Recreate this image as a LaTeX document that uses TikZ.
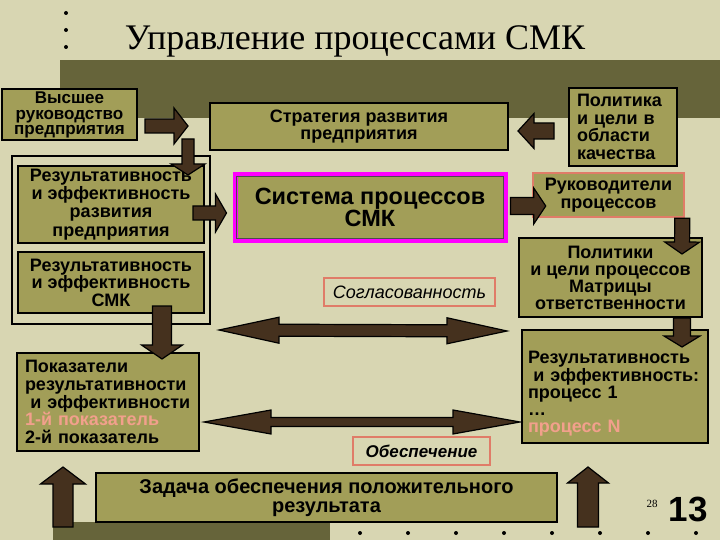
\documentclass[tikz,border=0pt]{standalone}
\usepackage{fontspec}
\setmainfont{Liberation Sans}
\newfontfamily\titlefont{Liberation Serif}
\usetikzlibrary{calc}
\definecolor{bg}{HTML}{D8D6B2}
\definecolor{band}{HTML}{66643A}
\definecolor{olive}{HTML}{A29E58}
\definecolor{arr}{HTML}{45311E}
\definecolor{salmontext}{HTML}{F2A08C}
\definecolor{salmonline}{HTML}{E07C68}
\definecolor{mag}{HTML}{FF00FF}
\tikzset{
  box/.style={draw=black, line width=2pt, fill=olive, inner sep=0pt, align=center,
    font=\bfseries\fontsize{18}{17.6}\selectfont},
  arrowshape/.style={draw=black, line width=1.2pt, fill=arr, line join=miter},
  dot/.style={circle, fill=black, inner sep=0pt, minimum size=4pt},
  tagbox/.style={draw=salmonline, line width=1.6pt, fill=bg, inner sep=0pt},
}
\newcommand\blockarrow[5]{% start, tip, shaft half width, head half width, head length
  \coordinate (baS) at (#1);
  \coordinate (baT) at (#2);
  \coordinate (baH) at ($(baT)!#5pt!(baS)$);
  \draw[arrowshape] ($(baS)!#3pt!90:(baT)$) -- ($(baH)!#3pt!-90:(baS)$)
    -- ($(baH)!#4pt!-90:(baS)$) -- (baT) -- ($(baH)!#4pt!90:(baS)$)
    -- ($(baH)!#3pt!90:(baS)$) -- ($(baS)!#3pt!-90:(baT)$) -- cycle;
}
\newcommand\dblarrow[5]{% tip A, tip B, shaft half width, head half width, head length
  \coordinate (daA) at (#1);
  \coordinate (daB) at (#2);
  \coordinate (daHA) at ($(daA)!#5pt!(daB)$);
  \coordinate (daHB) at ($(daB)!#5pt!(daA)$);
  \draw[arrowshape] (daA) -- ($(daHA)!#4pt!90:(daB)$) -- ($(daHA)!#3pt!90:(daB)$)
    -- ($(daHB)!#3pt!-90:(daA)$) -- ($(daHB)!#4pt!-90:(daA)$) -- (daB)
    -- ($(daHB)!#4pt!90:(daA)$) -- ($(daHB)!#3pt!90:(daA)$)
    -- ($(daHA)!#3pt!-90:(daB)$) -- ($(daHA)!#4pt!-90:(daB)$) -- cycle;
}
\begin{document}
\begin{tikzpicture}[x=1pt,y=-1pt]
\useasboundingbox (0,0) rectangle (720,540);
\fill[bg] (0,0) rectangle (720,540);
% bands
\fill[band] (60,60) rectangle (720,118);
\fill[band] (53,522) rectangle (330,540);
% dots
\foreach \yy [count=\i] in {13,30,47} \node[dot] (td\i) at (66,\yy) {};
\foreach \xx [count=\i] in {360,408,456,504,552,600,648,696} \node[dot] (bd\i) at (\xx,533) {};
% title
\node[font=\titlefont\fontsize{36}{36}\selectfont, anchor=base, inner sep=0pt] (title) at (355,50) {Управление процессами СМК};

% left column
\node[box, minimum width=135pt, minimum height=51pt, font=\bfseries\fontsize{17}{15.8}\selectfont] (vys) at (69.5,115)
  {Высшее\\руководство\\предприятия};
\node[draw=black, line width=2pt, fill=bg, minimum width=198pt, minimum height=168pt] (frame) at (111,240) {};
\node[box, minimum width=186pt, minimum height=77pt, font=\bfseries\fontsize{18}{18.3}\selectfont] (resrazv) at (111,204.5)
  {Результативность\\и эффективность\\развития\\предприятия};
\node[box, minimum width=186pt, minimum height=61pt] (ressmk) at (111,282.5)
  {Результативность\\и эффективность\\СМК};
\node[box, minimum width=182pt, minimum height=98pt, text width=166pt, align=left] (pokaz) at (108,402)
  {Показатели\\результативности\\\hspace*{0.3em}и эффективности\\{\color{salmontext}1-й показатель}\\2-й показатель};

% centre
\node[box, minimum width=298pt, minimum height=47pt] (strat) at (359,126.5)
  {Стратегия развития\\предприятия};
\node[box, draw=mag, line width=5pt, minimum width=270pt, minimum height=65pt,
  font=\bfseries\fontsize{23.5}{22.5}\selectfont] (sist) at (370,207.5)
  {Система процессов\\СМК};
\draw[line width=0.7pt, draw=black!70] ($(sist.north west)+(4,4)$) rectangle ($(sist.south east)+(-4,-4)$);
\node[tagbox, minimum width=171pt, minimum height=28pt, font=\itshape\fontsize{18}{18}\selectfont] (sogl) at (409.5,292) {Согласованность};
\node[tagbox, minimum width=137pt, minimum height=28pt, font=\bfseries\itshape\fontsize{17}{17}\selectfont] (obesp) at (421.5,451) {Обеспечение};
\node[box, minimum width=461pt, minimum height=49pt, font=\bfseries\fontsize{20}{19}\selectfont] (zad) at (326.5,497.5)
  {Задача обеспечения положительного\\результата};

% right column
\node[box, minimum width=108pt, minimum height=78pt, text width=92pt, align=left] (polit) at (623,127)
  {Политика\\и цели в\\области\\качества};
\node[box, draw=salmonline, line width=2.5pt, minimum width=151pt, minimum height=44pt] (rukov) at (608.5,195)
  {Руководители\\процессов};
\node[box, minimum width=183pt, minimum height=79pt, font=\bfseries\fontsize{18}{17}\selectfont] (politp) at (610.5,277.5)
  {Политики\\и цели процессов\\Матрицы\\ответственности};
\node[box, minimum width=186pt, minimum height=113pt] (resproc) at (615,386.5) {};
\node[inner sep=0pt, text width=174pt, align=left, font=\bfseries\fontsize{18}{17.2}\selectfont] (resprocT) at (615,394)
  {Результативность\\\hspace*{0.3em}и эффективность:\\процесс 1\\\dots\\{\color{salmontext}процесс N}};

% page numbers
\node[font=\titlefont\fontsize{11}{11}\selectfont, inner sep=0pt] (n28) at (652,504) {28};
\node[font=\bfseries\fontsize{35}{35}\selectfont, inner sep=0pt, anchor=base] (n13) at (688,521) {13};

% block arrows
\coordinate (a1s) at (145,126);
\coordinate (a1t) at ($(strat.west)+(-21,-0.5)$);
\blockarrow{a1s}{a1t}{7}{18}{14}
\coordinate (a2s) at (188,139);
\coordinate (a2t) at ($(resrazv.north)+(77,10)$);
\blockarrow{a2s}{a2t}{6}{17}{11}
\coordinate (a3s) at ($(resrazv.east)+(-12,8.5)$);
\coordinate (a3t) at ($(sist.west)+(-6,5.5)$);
\blockarrow{a3s}{a3t}{7}{19}{11}
\coordinate (a4s) at ($(polit.west)+(-14,4)$);
\coordinate (a4t) at ($(strat.east)+(9,4.5)$);
\blockarrow{a4s}{a4t}{8}{17.5}{16}
\coordinate (a5s) at ($(sist.east)+(3,-1.5)$);
\coordinate (a5t) at ($(rukov.west)+(14,11)$);
\blockarrow{a5s}{a5t}{8.5}{18}{12}
\coordinate (a6s) at ($(rukov.south east)+(-3,0)$);
\coordinate (a6t) at ($(politp.north east)+(-21,17)$);
\blockarrow{a6s}{a6t}{7.5}{17.5}{12}
\coordinate (a7s) at ($(politp.south east)+(-21,0)$);
\coordinate (a7t) at ($(resproc.north east)+(-27,18)$);
\blockarrow{a7s}{a7t}{8.5}{18}{11}
\coordinate (a8s) at ($(ressmk.south)+(51,-8)$);
\coordinate (a8t) at ($(pokaz.north)+(54,7)$);
\blockarrow{a8s}{a8t}{9.5}{20.5}{14}
\coordinate (d1a) at ($(frame.east)+(8,90)$);
\coordinate (d1b) at ($(politp.south west)+(-11,13)$);
\dblarrow{d1a}{d1b}{6}{13}{60}
\coordinate (d2a) at ($(pokaz.east)+(4,20)$);
\coordinate (d2b) at ($(resproc.west)+(-1,35.5)$);
\dblarrow{d2a}{d2b}{4.5}{12}{67}
\coordinate (u1s) at (63,527);
\coordinate (u1t) at (63,467);
\blockarrow{u1s}{u1t}{10}{22.5}{17}
\coordinate (u2s) at (588,527);
\coordinate (u2t) at (588,467);
\blockarrow{u2s}{u2t}{10.5}{20.5}{16}
\end{tikzpicture}
\end{document}
